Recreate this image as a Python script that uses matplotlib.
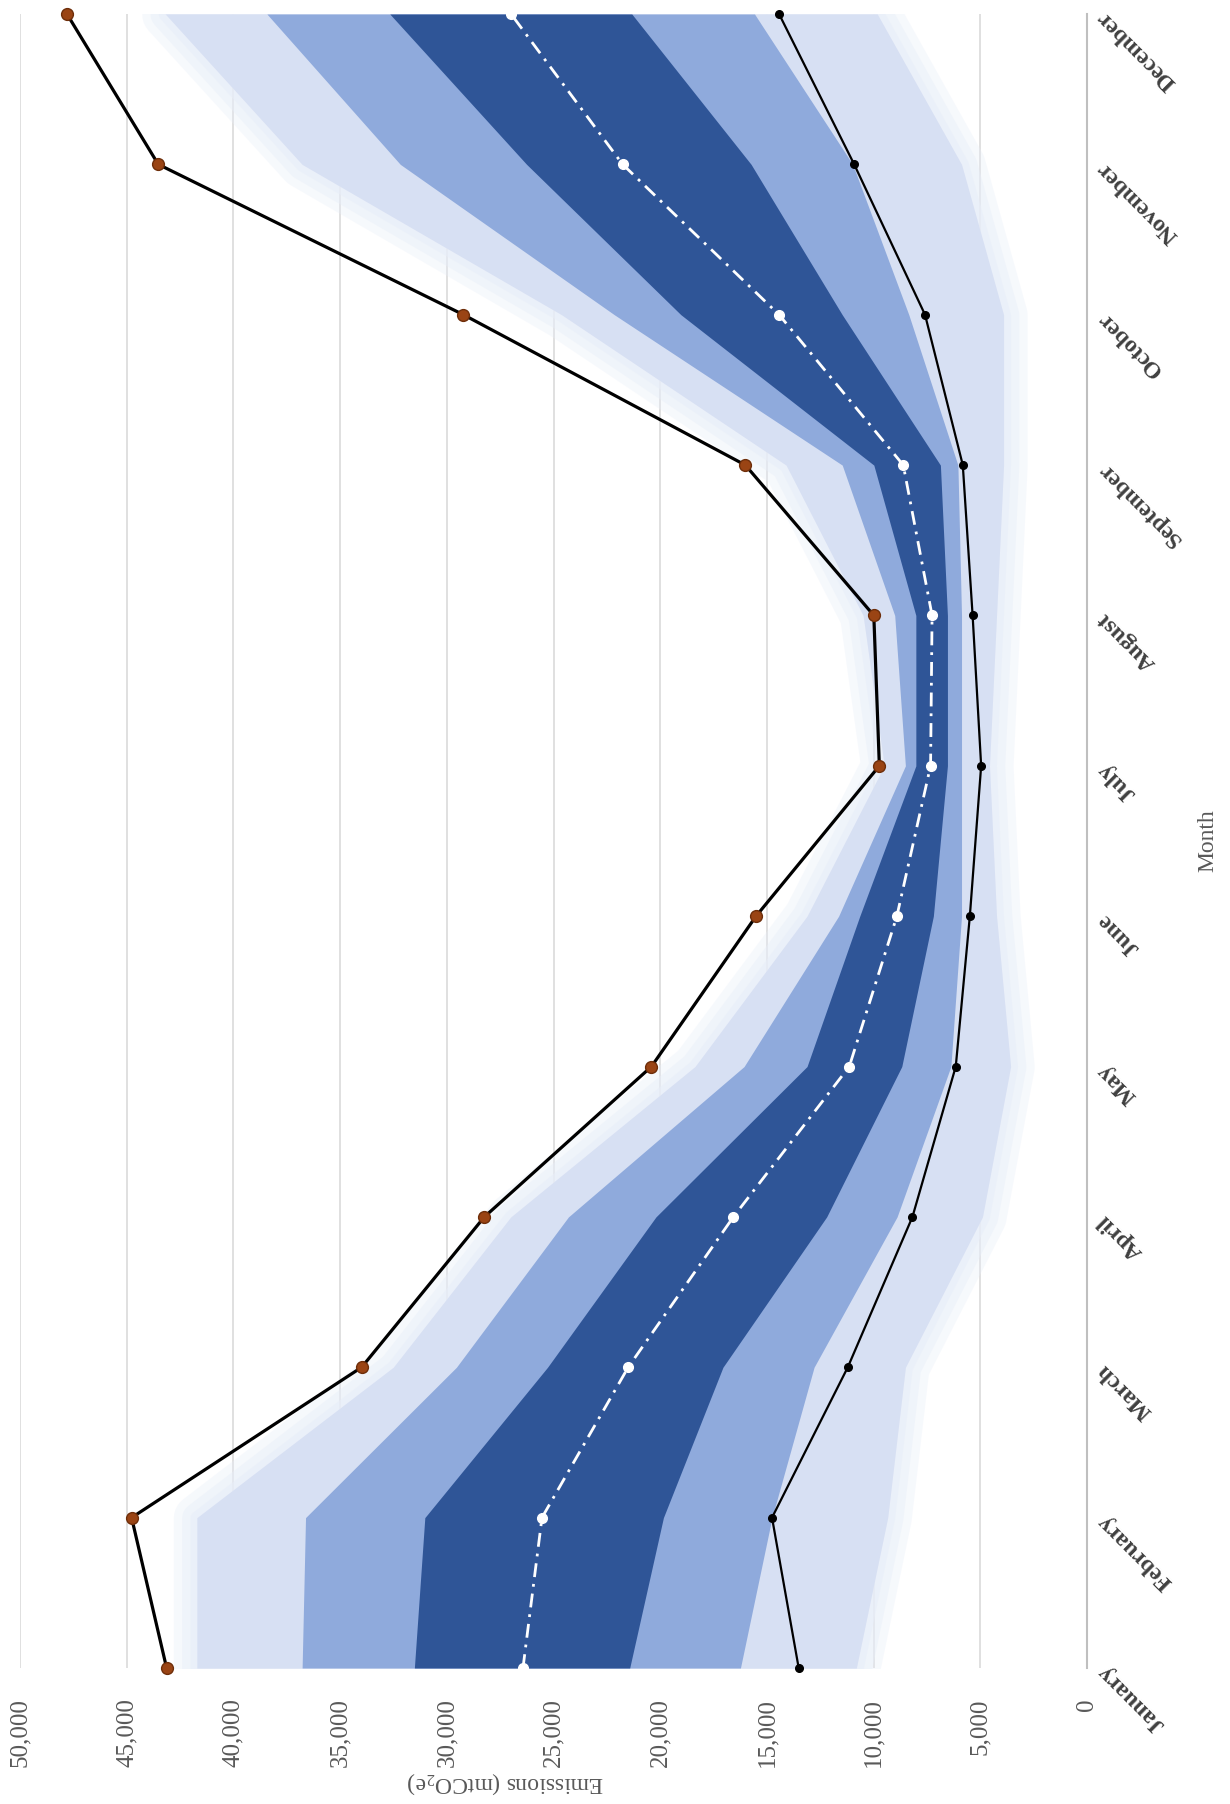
import numpy as np
import matplotlib.pyplot as plt

plt.rcParams['font.family'] = ['Liberation Serif', 'DejaVu Serif']
plt.rcParams['mathtext.fontset'] = 'custom'
plt.rcParams['mathtext.rm'] = 'Liberation Serif'

months = ["January", "February", "March", "April", "May", "June",
          "July", "August", "September", "October", "November", "December"]

# black line with brown markers
upper = [43130, 44770, 33990, 28240, 20410, 15510, 9730, 9990, 16010, 29220, 43520, 47800]
# black line with black markers
lower = [13510, 14760, 11210, 8180, 6150, 5490, 4960, 5360, 5820, 7590, 10910, 14430]
# white dash-dot line
median = [26430, 25540, 21500, 16570, 11140, 8910, 7330, 7260, 8610, 14430, 21760, 26990]

# shaded bands (low / high edge per month)
outer_lo = [10810, 9340, 8510, 4900, 3580, 4240, 4570, 4240, 3910, 3910, 5880, 9830]
outer_hi = [41710, 41710, 32510, 27000, 18370, 13120, 9500, 10490, 14100, 24620, 36780, 43190]
mid_lo = [16240, 14760, 12790, 8900, 6380, 5880, 5880, 5880, 6050, 8350, 10980, 15580]
mid_hi = [36780, 36620, 29550, 24300, 16070, 11640, 8510, 9010, 11470, 22150, 32180, 38430]
inner_lo = [21430, 19850, 17060, 12200, 8680, 7200, 6540, 6540, 6870, 11470, 15740, 21330]
inner_hi = [31520, 31030, 25280, 20200, 13120, 10650, 8020, 8020, 9990, 19030, 26260, 32670]

value_ticks = list(range(0, 50001, 5000))

LIGHT = "#D7E0F3"
GLOW = "#E8EEF9"
MID = "#8FAADC"
DARK = "#2F5597"
GRAY = "#595959"

pos = np.arange(len(months))

fig = plt.figure(figsize=(12.3, 18.04), dpi=100)
ax = fig.add_axes([20 / 1230, 136 / 1804, 1067 / 1230, 1654 / 1804])

# soft edge around the outer band
for lw, a in [(34, 0.35), (22, 0.45), (10, 0.6)]:
    ax.fill_betweenx(pos, outer_lo, outer_hi, facecolor=GLOW, edgecolor=GLOW,
                     linewidth=lw, alpha=a, zorder=1)
ax.fill_betweenx(pos, outer_lo, outer_hi, color=LIGHT, lw=0, zorder=2)
ax.fill_betweenx(pos, mid_lo, mid_hi, color=MID, lw=0, zorder=3)
ax.fill_betweenx(pos, inner_lo, inner_hi, color=DARK, lw=0, zorder=4)

ax.plot(lower, pos, color="black", lw=1.6, marker="o", ms=5.5,
        mfc="black", mec="black", clip_on=False, zorder=6)
ax.plot(median, pos, color="white", lw=2, ls=(0, (5, 2.5, 1, 2.5)), marker="o",
        ms=7, mfc="white", mec="white", clip_on=False, zorder=6)
ax.plot(upper, pos, color="black", lw=2.3, marker="o", ms=8.5,
        mfc="#9A4414", mec="#6E2E0A", clip_on=False, zorder=7)

ax.set_xlim(50000, 0)
ax.set_ylim(0, len(months) - 1)

ax.set_xticks(value_ticks)
ax.set_xticklabels([f"{v:,}" for v in value_ticks], rotation=90)
ax.grid(axis="x", color="#DDDDDD", lw=1.3, zorder=0)
ax.set_axisbelow(True)
ax.tick_params(axis="x", length=0, pad=22, labelsize=18, labelcolor=GRAY)

ax.yaxis.tick_right()
ax.set_yticks(pos)
ax.set_yticklabels(months, rotation=135, rotation_mode="anchor",
                   ha="right", va="center", fontweight="bold")
ax.tick_params(axis="y", length=0, pad=10, labelsize=17, labelcolor="#404040")

for side in ["top", "left", "bottom"]:
    ax.spines[side].set_visible(False)
ax.spines["right"].set_color("#BFBFBF")
ax.spines["right"].set_linewidth(1.5)

ax.set_xlabel(r"Emissions (mtCO$_2$e)", rotation=180, fontsize=17, color=GRAY,
              ha="center", va="center")
ax.xaxis.set_label_coords(0.455, -0.0695)
ax.yaxis.set_label_position("right")
ax.set_ylabel("Month", rotation=90, fontsize=17, color=GRAY, ha="center", va="center")
ax.yaxis.set_label_coords(1.113, 0.5)

plt.savefig("out.png", dpi=100)
